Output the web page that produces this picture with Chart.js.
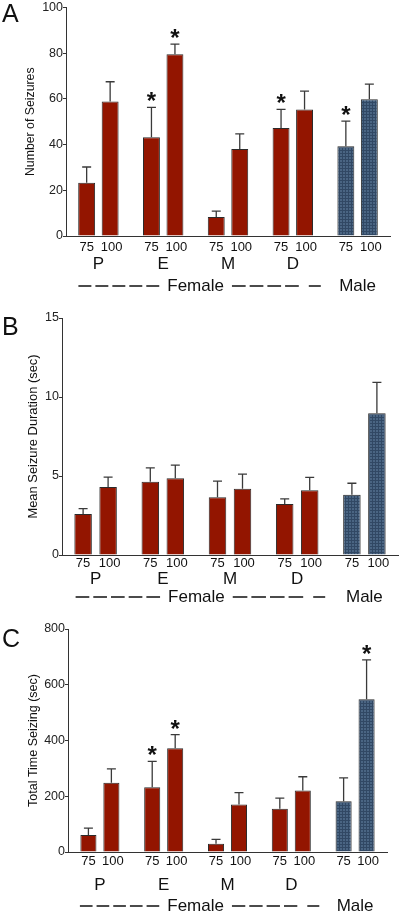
<!DOCTYPE html>
<html>
<head>
<meta charset="utf-8">
<script src="https://cdn.jsdelivr.net/npm/chart.js@4.4.1/dist/chart.umd.min.js"></script>
<style>
  body { margin: 0; background: #fff; width: 400px; height: 911px; position: relative; overflow: hidden; }
  canvas { position: absolute; left: 0; display: block; }
</style>
</head>
<body>
<canvas id="chartA" width="400" height="300" style="top:0"></canvas>
<canvas id="chartB" width="400" height="310" style="top:300px"></canvas>
<canvas id="chartC" width="400" height="301" style="top:610px"></canvas>
<script>
const groupLabels = ["P", "E", "M", "D", ""];

// A - number of seizures
const seizures75 = [23.3, 43.2, 8.3, 47.3, 39.3];
const seizures75Err = [6.9, 13.1, 2.6, 8.1, 11.0];
const seizures75Star = [false, true, false, true, true];
const seizures100 = [58.9, 79.5, 38.1, 55.4, 59.9];
const seizures100Err = [8.6, 4.5, 6.6, 8.0, 6.6];
const seizures100Star = [false, true, false, false, false];
const seizuresTicks = [0, 20, 40, 60, 80, 100];

// B - mean seizure duration
const duration75 = [2.6, 4.64, 3.65, 3.23, 3.82];
const duration75Err = [0.34, 0.88, 1.03, 0.32, 0.72];
const duration100 = [4.3, 4.85, 4.2, 4.1, 8.97];
const duration100Err = [0.63, 0.84, 0.92, 0.81, 1.95];
const durationTicks = [0, 5, 10, 15];

// C - total time seizing
const total75 = [61, 232, 30, 155, 182];
const total75Err = [25, 93, 15, 38, 84];
const total75Star = [false, true, false, false, false];
const total100 = [248, 372, 170, 221, 548];
const total100Err = [50, 49, 43, 49, 141];
const total100Star = [false, true, false, false, true];
const totalTicks = [0, 200, 400, 600, 800];

const noStars = [false, false, false, false, false];

const red = "#931500";
const font = "'Liberation Sans', Arial, sans-serif";

// hatched blue fill for the male bars
function bluePattern() {
  const c = document.createElement("canvas");
  c.width = 3;
  c.height = 3;
  const g = c.getContext("2d");
  g.fillStyle = "#4a6583";
  g.fillRect(0, 0, 3, 3);
  g.fillStyle = "#314864";
  g.fillRect(0, 0, 3, 1);
  g.fillRect(0, 0, 1, 3);
  return g.createPattern(c, "repeat");
}
const blue = bluePattern();
const barColors = [red, red, red, red, blue];

// n evenly spread dashes between x1 and x2
function dashes(ctx, x1, x2, y, n, gap) {
  const d = (x2 - x1 + gap) / n - gap;
  for (let k = 0; k < n; k++) {
    const s = x1 + k * (d + gap);
    ctx.moveTo(s, y);
    ctx.lineTo(s + d, y);
  }
}

// error bars, stars and the labels under the axis
const figureMarks = {
  id: "figureMarks",
  afterDatasetsDraw(chart) {
    const ctx = chart.ctx;
    const y = chart.scales.y;
    chart.data.datasets.forEach((ds, i) => {
      chart.getDatasetMeta(i).data.forEach((bar, j) => {
        const top = y.getPixelForValue(ds.data[j] + ds.errors[j]);
        ctx.save();
        ctx.strokeStyle = "#3a3a3a";
        ctx.lineWidth = 1.3;
        ctx.beginPath();
        ctx.moveTo(bar.x, bar.y);
        ctx.lineTo(bar.x, top);
        ctx.moveTo(bar.x - 4.5, top);
        ctx.lineTo(bar.x + 4.5, top);
        ctx.stroke();
        if (ds.stars[j]) {
          ctx.fillStyle = "#111";
          ctx.font = "bold 24px " + font;
          ctx.textAlign = "center";
          ctx.textBaseline = "alphabetic";
          ctx.fillText("*", bar.x, top + 2);
        }
        ctx.restore();
      });
    });
  },
  afterDraw(chart) {
    const o = chart.options.plugins.figureMarks;
    const ctx = chart.ctx;
    const x = chart.scales.x;
    const b = chart.chartArea.bottom;
    ctx.save();
    ctx.fillStyle = "#111";

    // panel letter
    ctx.font = "25px " + font;
    ctx.textAlign = "left";
    ctx.textBaseline = "alphabetic";
    ctx.fillText(o.letter, 2, o.letterBase);

    ctx.textAlign = "center";
    ctx.textBaseline = "middle";
    ctx.font = "13px " + font;
    chart.data.datasets.forEach((ds, i) => {
      chart.getDatasetMeta(i).data.forEach((bar) => {
        ctx.fillText(ds.label, bar.x + (ds.label === "100" ? 1.5 : 0), b + o.doseY);
      });
    });

    ctx.font = "17px " + font;
    chart.data.labels.forEach((l, i) => ctx.fillText(l, x.getPixelForValue(i), b + o.groupY));

    // Female ----- / Male line
    const fy = b + o.sexY;
    const fx = (x.getPixelForValue(1) + x.getPixelForValue(2)) / 2;
    const dx = x.getPixelForValue(3);
    ctx.fillText("Female", fx, fy);
    ctx.fillText("Male", x.getPixelForValue(4), fy);
    const w = ctx.measureText("Female").width;
    ctx.strokeStyle = "#111";
    ctx.lineWidth = 1.5;
    ctx.beginPath();
    dashes(ctx, x.getPixelForValue(0) - 20, fx - w / 2 - 8, fy, 5, 4);
    dashes(ctx, fx + w / 2 + 8, dx + 6, fy, 4, 4);
    dashes(ctx, dx + 16, dx + 28, fy, 1, 4);
    ctx.stroke();
    ctx.restore();
  },
};

function makePanel(id, p) {
  return new Chart(document.getElementById(id), {
    type: "bar",
    data: {
      labels: groupLabels,
      datasets: [
        {
          label: "75",
          data: p.low,
          errors: p.lowErr,
          stars: p.lowStar,
          backgroundColor: barColors,
          borderColor: "#2b2b2b",
          borderWidth: 1,
          categoryPercentage: p.catPct,
          barPercentage: p.barPct,
        },
        {
          label: "100",
          data: p.high,
          errors: p.highErr,
          stars: p.highStar,
          backgroundColor: barColors,
          borderColor: "#2b2b2b",
          borderWidth: 1,
          categoryPercentage: p.catPct,
          barPercentage: p.barPct,
        },
      ],
    },
    options: {
      responsive: false,
      animation: false,
      layout: { padding: p.padding },
      plugins: {
        legend: { display: false },
        tooltip: { enabled: false },
        figureMarks: p.marks,
      },
      scales: {
        x: {
          ticks: { display: false },
          grid: { display: false },
          border: { display: true, color: "#333", width: 1 },
        },
        y: {
          min: p.ticks[0],
          max: p.ticks[p.ticks.length - 1],
          afterBuildTicks: (scale) => {
            scale.ticks = p.ticks.map((v) => ({ value: v }));
          },
          afterFit: (scale) => {
            scale.width = p.axisX;
          },
          ticks: {
            padding: 0,
            color: "#222",
            font: { family: font, size: 12.5 },
          },
          grid: { drawOnChartArea: false, drawTicks: true, tickLength: 3, color: "#333" },
          border: { display: true, color: "#333", width: 1 },
          title: {
            display: true,
            text: p.title,
            color: "#111",
            font: { family: font, size: p.titleSize },
            padding: { top: p.titlePad, bottom: 0 },
          },
        },
      },
    },
    plugins: [figureMarks],
  });
}

// PANEL A
makePanel("chartA", {
  low: seizures75, lowErr: seizures75Err, lowStar: seizures75Star,
  high: seizures100, highErr: seizures100Err, highStar: seizures100Star,
  ticks: seizuresTicks,
  title: "Number of Seizures",
  titleSize: 12.3,
  titlePad: 23,
  axisX: 66,
  padding: { left: 0, right: 10, top: 7, bottom: 56 },
  catPct: 0.725,
  barPct: 0.72,
  marks: { letter: "A", letterBase: 22, doseY: 11, groupY: 28, sexY: 50 },
});

// PANEL B
makePanel("chartB", {
  low: duration75, lowErr: duration75Err, lowStar: noStars,
  high: duration100, highErr: duration100Err, highStar: noStars,
  ticks: durationTicks,
  title: "Mean Seizure Duration (sec)",
  titleSize: 12.9,
  titlePad: 26,
  axisX: 62,
  padding: { left: 0, right: 2, top: 18, bottom: 47 },
  catPct: 0.744,
  barPct: 0.7,
  marks: { letter: "B", letterBase: 35, doseY: 8, groupY: 24, sexY: 42 },
});

// PANEL C
makePanel("chartC", {
  low: total75, lowErr: total75Err, lowStar: total75Star,
  high: total100, highErr: total100Err, highStar: total100Star,
  ticks: totalTicks,
  title: "Total Time Seizing (sec)",
  titleSize: 12.5,
  titlePad: 26,
  axisX: 68,
  padding: { left: 0, right: 13, top: 19, bottom: 51 },
  catPct: 0.72,
  barPct: 0.7,
  marks: { letter: "C", letterBase: 37, doseY: 9, groupY: 33, sexY: 54 },
});
</script>
</body>
</html>
